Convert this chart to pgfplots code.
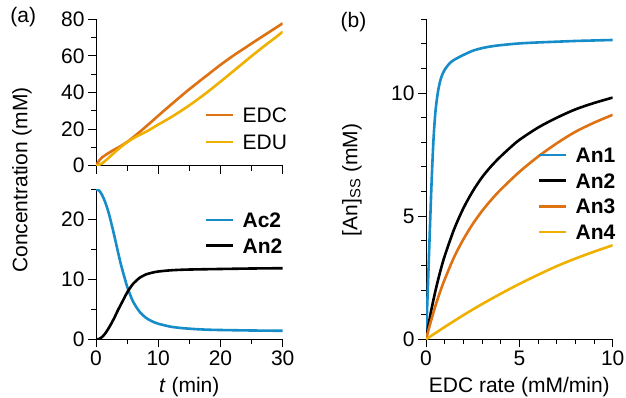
\documentclass[border=0pt]{standalone}
\usepackage{fontspec}
\setmainfont{Liberation Sans}
\usepackage{pgfplots}
\pgfplotsset{compat=1.18}
\definecolor{cblue}{RGB}{22,140,200}
\definecolor{corange}{RGB}{222,113,18}
\definecolor{cyellow}{RGB}{240,176,0}
\newcommand\f{\fontsize{21}{25}\selectfont}
\pgfplotsset{
 myax/.style={
  scale only axis, axis lines=left, axis line style={-, line width=1pt},
  tick align=outside, major tick length=8pt, minor tick length=5pt,
  tick style={line width=1pt, black},
  tick label style={font=\f},
  /pgf/number format/assume math mode=true,
  enlargelimits=false,
  legend cell align=left,
  legend image code/.code={\draw[##1, line width=2.6pt] (0pt,0pt) -- (27pt,0pt);},
  legend style={draw=none, fill=none, inner sep=0pt, outer sep=0pt, font=\f, column sep=8pt, anchor=north west, nodes={inner sep=0pt, text height=15pt, text depth=0pt}},
  every axis plot/.append style={no markers, smooth, tension=0.5},
  every axis plot post/.append style={line width=2.6pt},
 }
}
\begin{document}
\begin{tikzpicture}
% (a) top
\begin{axis}[myax, width=186.7pt, height=146.4pt, at={(96pt,-165.7pt)}, anchor=south west,
  xmin=0, xmax=30, ymin=0, ymax=80,
  xtick={0,10,20,30}, xticklabels={}, minor xtick={5,15,25},
  ytick={0,20,40,60,80}, minor ytick={10,30,50,70},
  legend style={at={(0.584,0.3975)}, row sep=12pt}]
\addplot[corange] coordinates {(0,0) (0.5,2.8) (1,4.6) (2,6.9) (3,8.9) (4,10.8) (5,13.0) (6,15.6) (7,18.4) (8,21.3) (9,24.3) (10,27.3) (11,30.3) (12,33.2) (13,36.1) (14,39.0) (15,41.8) (16,44.5) (17,47.2) (18,49.8) (19,52.5) (20,55.1) (21,57.6) (22,60.0) (23,62.3) (24,64.5) (25,66.8) (26,69.0) (27,71.2) (28,73.4) (29,75.6) (30,77.8)};
\addlegendentry{EDC}
\addplot[cyellow] coordinates {(0,0) (0.5,0.5) (1,1.3) (2,4.2) (3,7.3) (4,10.2) (5,12.8) (6,15.0) (7,16.8) (8,18.5) (9,20.4) (10,22.5) (11,24.4) (12,26.4) (13,28.5) (14,30.7) (15,33.0) (16,35.4) (17,37.9) (18,40.5) (19,43.2) (20,45.9) (21,48.7) (22,51.5) (23,54.3) (24,57.1) (25,59.9) (26,62.6) (27,65.3) (28,67.9) (29,70.5) (30,73.2)};
\addlegendentry{EDU}
\end{axis}
% (a) bottom
\begin{axis}[myax, width=186.7pt, height=150pt, at={(96pt,-339.3pt)}, anchor=south west,
  xmin=0, xmax=30, ymin=0, ymax=25,
  xtick={0,10,20,30}, minor xtick={5,15,25},
  ytick={0,10,20}, minor ytick={5,15,25},
  legend style={at={(0.584,0.845)}, row sep=10.7pt}]
\addplot[cblue] coordinates {(0,25) (0.5,24.8) (1,24.0) (1.5,22.8) (2,21.2) (2.5,19.2) (3,17.0) (3.5,14.7) (4,12.5) (4.5,10.6) (5,8.8) (5.5,7.4) (6,6.2) (7,4.6) (8,3.6) (9,3.0) (10,2.6) (12,2.1) (14,1.85) (16,1.7) (18,1.6) (20,1.55) (25,1.47) (30,1.42)};
\addlegendentry{\textbf{Ac2}}
\addplot[black] coordinates {(0,0) (0.5,0.05) (1,0.4) (1.5,1.0) (2,1.8) (2.5,2.7) (3,3.7) (3.5,4.8) (4,5.8) (4.5,6.8) (5,7.8) (5.5,8.6) (6,9.3) (6.5,9.8) (7,10.25) (8,10.8) (9,11.1) (10,11.3) (12,11.5) (14,11.6) (16,11.65) (20,11.72) (25,11.8) (30,11.85)};
\addlegendentry{\textbf{An2}}
\end{axis}
% (b)
\begin{axis}[myax, width=186.7pt, height=320pt, at={(426pt,-339.3pt)}, anchor=south west,
  xmin=0, xmax=10, ymin=0, ymax=13,
  xtick={0,5,10}, minor xtick={1,2,3,4,6,7,8,9},
  ytick={0,5,10}, minor ytick={1,2,3,4,6,7,8,9,11,12,13},
  legend style={at={(0.6,0.599)}, row sep=10.6pt}]
\addplot[cblue] coordinates {(0,0) (0.1,2.1) (0.2,4.3) (0.3,6.4) (0.4,8.1) (0.5,9.2) (0.6,9.85) (0.7,10.3) (0.8,10.6) (0.9,10.8) (1,10.95) (1.25,11.2) (1.5,11.35) (2,11.55) (2.5,11.72) (3,11.83) (3.5,11.9) (4,11.95) (5,12.02) (6,12.06) (7,12.09) (8,12.12) (9,12.14) (10,12.16)};
\addlegendentry{\textbf{An1}}
\addplot[black] coordinates {(0,0) (0.25,1.06) (0.5,1.95) (0.75,2.72) (1,3.38) (1.5,4.46) (2,5.32) (2.5,6.01) (3,6.58) (3.5,7.04) (4,7.43) (4.5,7.78) (5,8.1) (6,8.6) (7,9.0) (8,9.34) (9,9.6) (10,9.82)};
\addlegendentry{\textbf{An2}}
\addplot[corange] coordinates {(0,0) (0.25,0.7) (0.5,1.35) (0.75,1.92) (1,2.43) (1.5,3.33) (2,4.06) (2.5,4.68) (3,5.21) (3.5,5.67) (4,6.08) (5,6.8) (6,7.42) (7,7.96) (8,8.43) (9,8.8) (10,9.12)};
\addlegendentry{\textbf{An3}}
\addplot[cyellow] coordinates {(0,0) (1,0.5) (2,0.98) (3,1.43) (4,1.85) (5,2.25) (6,2.62) (7,2.97) (8,3.28) (9,3.56) (10,3.82)};
\addlegendentry{\textbf{An4}}
\end{axis}
\node[font=\f, rotate=90, anchor=base] at (27.3pt,-180pt) {Concentration (mM)};
\node[font=\f, rotate=90, anchor=base] at (357.3pt,-180pt) {[An]\textsubscript{SS} (mM)};
\node[font=\f, anchor=base] at (189.3pt,-392pt) {\textit{t} (min)};
\node[font=\f, anchor=base] at (519.3pt,-392pt) {EDC rate (mM/min)};
\node[font=\f, anchor=base] at (23.3pt,-22.3pt) {(a)};
\node[font=\f, anchor=base] at (353.5pt,-27.3pt) {(b)};
\pgfresetboundingbox
\useasboundingbox (0pt,0pt) rectangle (626pt,-397pt);
\end{tikzpicture}
\end{document}
